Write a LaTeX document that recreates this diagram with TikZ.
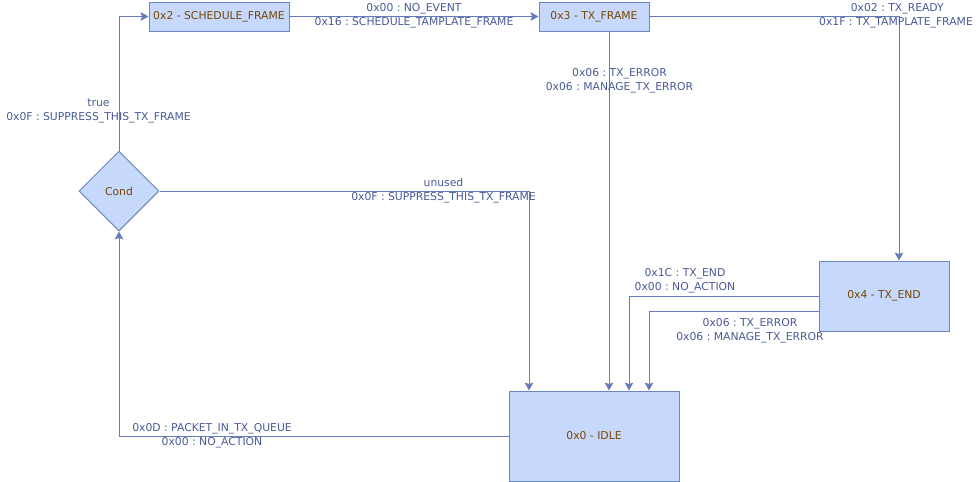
\documentclass[tikz,border=0pt]{standalone}
\usepackage{fontspec}
\setmainfont{DejaVu Sans}
\usetikzlibrary{shapes.geometric,arrows.meta,calc}

\definecolor{boxfill}{RGB}{198,217,252}
\definecolor{boxline}{RGB}{108,134,192}
\definecolor{edgeline}{RGB}{100,124,186}
\definecolor{statetext}{RGB}{120,70,0}
\definecolor{labeltext}{RGB}{72,90,150}

\tikzset{
  state/.style={draw=boxline, fill=boxfill, line width=0.75pt, inner sep=0pt,
    text=statetext, font=\fontsize{8.1pt}{10pt}\selectfont},
  decision/.style={state, diamond, minimum width=60pt, minimum height=60pt},
  flow/.style={draw=edgeline, line width=0.75pt,
    -{Stealth[length=6pt,width=6.5pt,inset=1.2pt]}},
  elabel/.style={text=labeltext, inner sep=0pt, align=center,
    font=\fontsize{8.1pt}{10.5pt}\selectfont}
}

\begin{document}
\begin{tikzpicture}[x=0.75pt, y=-0.75pt]
  \useasboundingbox (0,0) rectangle (979,482);

  % states (pixel grid, y grows downwards)
  \node[state, minimum width=105pt, minimum height=21.75pt] (sched) at (219,16.5) {0x2 - SCHEDULE\_FRAME};
  \node[state, minimum width=82.5pt, minimum height=21.75pt] (txf) at (594,16.5) {0x3 - TX\_FRAME};
  \node[state, minimum width=97.5pt, minimum height=52.5pt] (txend) at (884,296) {0x4 - TX\_END};
  \node[state, minimum width=127.5pt, minimum height=67.5pt] (idle) at (594,436) {0x0 - IDLE};
  \node[decision] (cond) at (119,191) {Cond};

  % transitions
  \draw[flow] (cond.north) |- (sched.west);
  \draw[flow] (sched.east) -- (txf.west);
  \draw[flow] (txf.east) -| ($(txend.north)+(15,0)$);
  \draw[flow] ($(txf.south)+(15,0)$) -- ($(idle.north)+(15,0)$);
  \draw[flow] (cond.east) -| ($(idle.north)+(-65,0)$);
  \draw[flow] (txend.west) -| ($(idle.north)+(35,0)$);
  \draw[flow] ($(txend.west)+(0,15)$) -| ($(idle.north)+(55,0)$);
  \draw[flow] (idle.west) -| (cond.south);

  % transition labels
  \node[elabel] (l1) at (98.5,111) {true\\0x0F :\ SUPPRESS\_THIS\_TX\_FRAME};
  \node[elabel] (l2) at (414,16) {0x00 :\ NO\_EVENT\\0x16 :\ SCHEDULE\_TAMPLATE\_FRAME};
  \node[elabel] (l3) at (896,16) {\hspace*{2pt}0x02 :\ TX\_READY\\0x1F :\ TX\_TAMPLATE\_FRAME};
  \node[elabel] (l4) at (619.5,81) {0x06 :\ TX\_ERROR\\0x06 :\ MANAGE\_TX\_ERROR};
  \node[elabel] (l5) at (443.5,191) {unused\\0x0F :\ SUPPRESS\_THIS\_TX\_FRAME};
  \node[elabel] (l6) at (685,281) {0x1C :\ TX\_END\\0x00 :\ NO\_ACTION};
  \node[elabel] (l7) at (750,331) {0x06 :\ TX\_ERROR\\0x06 :\ MANAGE\_TX\_ERROR};
  \node[elabel] (l8) at (212,436) {0x0D :\ PACKET\_IN\_TX\_QUEUE\\0x00 :\ NO\_ACTION};
\end{tikzpicture}
\end{document}
